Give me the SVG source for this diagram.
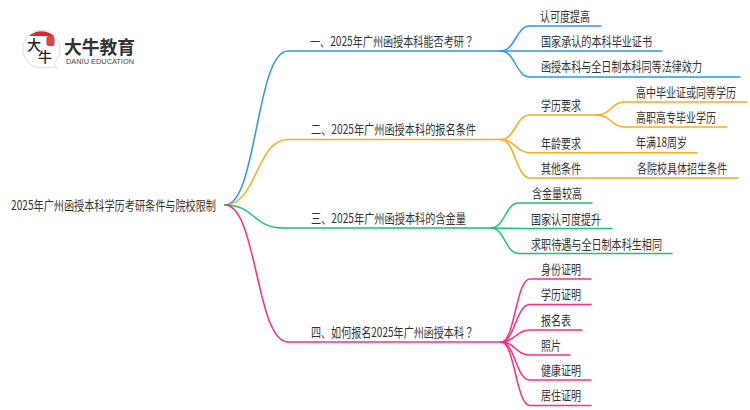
<svg xmlns="http://www.w3.org/2000/svg" width="750" height="410" viewBox="0 0 750 410">
<style>
text{font-family:"Noto Sans CJK SC","Liberation Sans",sans-serif;font-size:13px;fill:#333;}
.c{fill:none;stroke-width:1.5;stroke-linecap:round}
.b{stroke:#2f94ff}.o{stroke:#fbac1a}.g{stroke:#17c475}.p{stroke:#ff2d7f}
.q{font-family:"Noto Sans CJK TC",sans-serif}
</style>
<rect width="750" height="410" fill="#fff"/>
<g id="connectors">
<path class="c b" d="M225 205C257 205 256 51 288 51H501"/>
<path class="c b" d="M501 51C515 51 516 26 530 26H601"/>
<path class="c b" d="M501 51C515 51 516 51 530 51H662"/>
<path class="c b" d="M501 51C515 51 516 77 530 77H740"/>
<path class="c o" d="M225 205C257 205 256 139.500 288 139.500H501"/>
<path class="c o" d="M501 139.500C515 139.500 516 115 530 115H597"/>
<path class="c o" d="M597 115C611 115 611 102 625 102H747"/>
<path class="c o" d="M597 115C611 115 611 127 625 127H727"/>
<path class="c o" d="M501 139.500C515 139.500 516 152.700 530 152.700H697"/>
<path class="c o" d="M501 139.500C515 139.500 516 178 530 178H738"/>
<path class="c g" d="M225 205C255 205 253 228 283 228H491"/>
<path class="c g" d="M491 228C505 228 505 203 519 203H592"/>
<path class="c g" d="M491 228C505 228 505 228.500 519 228.500H612"/>
<path class="c g" d="M491 228C505 228 505 253.500 519 253.500H672"/>
<path class="c p" d="M225 205C257 205 256 342 288 342H501"/>
<path class="c p" d="M501 342C515 342 516 279 530 279H591"/>
<path class="c p" d="M501 342C515 342 516 304.500 530 304.500H591"/>
<path class="c p" d="M501 342C515 342 516 330 530 330H582"/>
<path class="c p" d="M501 342C515 342 516 355 530 355H570"/>
<path class="c p" d="M501 342C515 342 516 380 530 380H591"/>
<path class="c p" d="M501 342C515 342 516 405.500 530 405.500H591"/>
</g>
<g id="logo">
<path d="M42 30A19 19 0 1 0 48 67L57 68L54 63A19 19 0 0 0 42 30Z" fill="#fff" stroke="#ccc" stroke-width="0.700"/>
<path d="M29 36A19 19 0 0 1 54 36Z" fill="#e5202a"/>
<rect x="46.500" y="36" width="8" height="10" rx="2" fill="#d8434a"/>
<text x="34" y="50" text-anchor="middle" style="font-size:14px;fill:#222;font-weight:500">大</text>
<text x="45" y="62" text-anchor="middle" style="font-size:14px;fill:#222;font-weight:500">牛</text>
<text x="64" y="54" textLength="71" lengthAdjust="spacingAndGlyphs" style="font-size:18px;fill:#333;font-weight:700">大牛教育</text>
<text x="66" y="63.500" textLength="68" lengthAdjust="spacingAndGlyphs" style="font-family:'Liberation Sans',sans-serif;font-size:7px;fill:#444">DANIU EDUCATION</text>
</g>
<g id="root"><text x="11" y="210" textLength="205" lengthAdjust="spacingAndGlyphs">2025年广州函授本科学历考研条件与院校限制</text></g>
<g id="n1"><text x="310" y="46" textLength="164" lengthAdjust="spacingAndGlyphs">一、2025年广州函授本科能否考研<tspan class="q">？</tspan></text></g>
<g id="n1-1"><text x="540" y="21" textLength="50" lengthAdjust="spacingAndGlyphs">认可度提高</text></g>
<g id="n1-2"><text x="541" y="46" textLength="111" lengthAdjust="spacingAndGlyphs">国家承认的本科毕业证书</text></g>
<g id="n1-3"><text x="541" y="71" textLength="161" lengthAdjust="spacingAndGlyphs">函授本科与全日制本科同等法律效力</text></g>
<g id="n2"><text x="311" y="134" textLength="165" lengthAdjust="spacingAndGlyphs">二、2025年广州函授本科的报名条件</text></g>
<g id="n2-1"><text x="541" y="110" textLength="40" lengthAdjust="spacingAndGlyphs">学历要求</text></g>
<g id="n2-1-1"><text x="636" y="97" textLength="100" lengthAdjust="spacingAndGlyphs">高中毕业证或同等学历</text></g>
<g id="n2-1-2"><text x="636" y="122" textLength="80" lengthAdjust="spacingAndGlyphs">高职高专毕业学历</text></g>
<g id="n2-2"><text x="541" y="148" textLength="40" lengthAdjust="spacingAndGlyphs">年龄要求</text></g>
<g id="n2-2-1"><text x="636" y="147" textLength="51" lengthAdjust="spacingAndGlyphs">年满18周岁</text></g>
<g id="n2-3"><text x="541" y="173" textLength="40" lengthAdjust="spacingAndGlyphs">其他条件</text></g>
<g id="n2-3-1"><text x="637" y="173" textLength="90" lengthAdjust="spacingAndGlyphs">各院校具体招生条件</text></g>
<g id="n3"><text x="311" y="223" textLength="155" lengthAdjust="spacingAndGlyphs">三、2025年广州函授本科的含金量</text></g>
<g id="n3-1"><text x="532" y="198" textLength="50" lengthAdjust="spacingAndGlyphs">含金量较高</text></g>
<g id="n3-2"><text x="531" y="224" textLength="70" lengthAdjust="spacingAndGlyphs">国家认可度提升</text></g>
<g id="n3-3"><text x="531" y="249" textLength="131" lengthAdjust="spacingAndGlyphs">求职待遇与全日制本科生相同</text></g>
<g id="n4"><text x="311" y="337" textLength="163" lengthAdjust="spacingAndGlyphs">四、如何报名2025年广州函授本科<tspan class="q">？</tspan></text></g>
<g id="n4-1"><text x="541" y="274" textLength="40" lengthAdjust="spacingAndGlyphs">身份证明</text></g>
<g id="n4-2"><text x="541" y="299" textLength="40" lengthAdjust="spacingAndGlyphs">学历证明</text></g>
<g id="n4-3"><text x="541" y="325" textLength="30" lengthAdjust="spacingAndGlyphs">报名表</text></g>
<g id="n4-4"><text x="541" y="350" textLength="20" lengthAdjust="spacingAndGlyphs">照片</text></g>
<g id="n4-5"><text x="541" y="375" textLength="40" lengthAdjust="spacingAndGlyphs">健康证明</text></g>
<g id="n4-6"><text x="541" y="400" textLength="40" lengthAdjust="spacingAndGlyphs">居住证明</text></g>
</svg>
